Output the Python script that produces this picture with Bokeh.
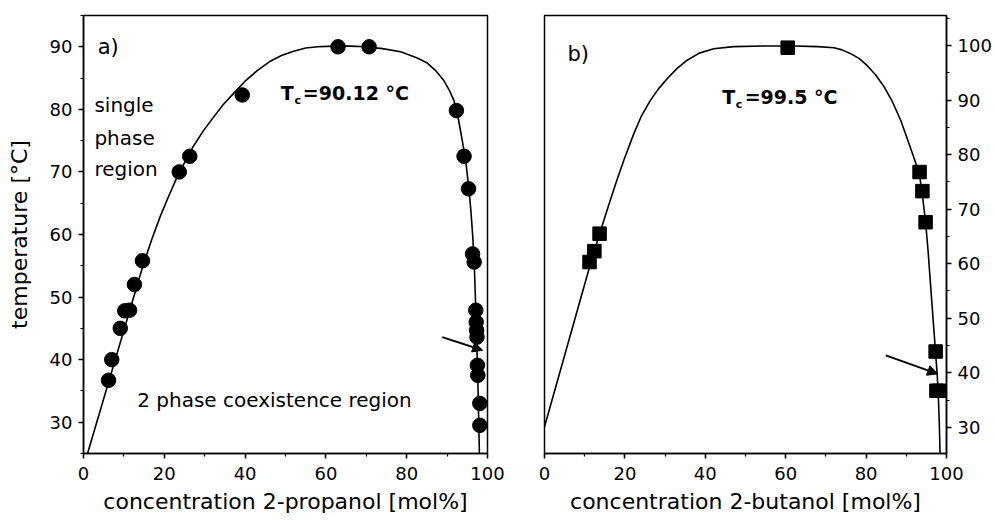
from bokeh.plotting import figure
from bokeh.layouts import row
from bokeh.models import Range1d, SingleIntervalTicker, Label, Arrow, NormalHead
from bokeh.embed import file_html
from bokeh.resources import INLINE

FONT = "DejaVu Sans"

# ---- panel a) : 2-propanol (circles) ----
conc_a = [6.2, 7.0, 9.1, 10.2, 11.4, 12.6, 14.6, 23.7, 26.3, 39.3, 63.0, 70.7,
          92.3, 94.2, 95.3, 96.3, 96.7, 97.1, 97.2, 97.3, 97.4, 97.5, 97.6, 98.1, 98.1]
temp_a = [36.7, 40.0, 45.0, 47.8, 47.9, 52.0, 55.8, 70.0, 72.5, 82.3, 90.0, 90.0,
          79.8, 72.5, 67.3, 56.9, 55.6, 47.9, 46.0, 44.7, 43.6, 39.1, 37.5, 33.0, 29.5]

curve_a_x = [1.0, 14.9, 17.0, 19.0, 21.0, 23.1, 25.0, 27.0, 29.7, 32.0, 34.5, 37.2,
             40.0, 43.0, 46.0, 49.0, 52.0, 55.0, 58.0, 62.0, 66.0, 70.0, 74.0, 78.5,
             82.6, 85.1, 87.3, 89.2, 90.6, 91.7, 92.6, 93.4, 94.0, 94.6, 95.4, 95.9,
             96.3, 96.7, 97.0, 97.3, 97.6, 97.8, 98.0]
curve_a_t = [25.0, 55.4, 59.4, 62.9, 66.0, 69.1, 71.5, 73.9, 76.6, 78.6, 80.7, 82.6,
             84.5, 86.2, 87.6, 88.6, 89.3, 89.8, 90.0, 90.1, 90.1, 90.0, 89.7, 89.2,
             88.2, 87.4, 86.1, 84.6, 83.0, 81.4, 79.1, 76.3, 74.1, 71.8, 67.3, 63.7,
             60.1, 55.9, 50.0, 44.0, 37.0, 31.0, 25.0]

# ---- panel b) : 2-butanol (squares) ----
conc_b = [11.2, 12.4, 13.7, 60.5, 93.3, 94.0, 94.8, 97.3, 97.5, 98.3]
temp_b = [60.3, 62.3, 65.5, 99.6, 76.8, 73.3, 67.6, 43.9, 36.7, 36.7]

curve_b_x = [0.0, 11.4, 13.7, 16.0, 18.0, 20.0, 22.2, 24.0, 26.3, 28.3, 30.5, 33.0,
             35.5, 38.5, 42.1, 47.0, 55.0, 62.0, 68.0, 72.0, 74.0, 76.2, 78.3, 80.3,
             82.4, 84.5, 86.6, 88.6, 90.4, 91.9, 93.3, 94.1, 94.8, 95.4, 95.9, 96.4,
             96.9, 97.3, 97.7, 98.0, 98.2, 98.4]
curve_b_t = [30.1, 59.9, 65.5, 70.8, 75.3, 79.5, 83.8, 86.9, 89.9, 92.0, 93.9, 95.8,
             97.3, 98.6, 99.4, 99.8, 99.9, 99.9, 99.8, 99.6, 99.2, 98.5, 97.6, 96.3,
             94.6, 92.4, 89.6, 86.3, 82.6, 79.4, 76.3, 72.0, 67.6, 62.5, 57.5, 52.5,
             47.5, 43.5, 39.5, 35.0, 31.0, 25.2]


def style_axis(ax, interval):
    ax.ticker = SingleIntervalTicker(interval=interval, num_minor_ticks=2)
    ax.axis_line_color = "black"
    ax.axis_line_width = 1.5
    ax.major_tick_line_color = "black"
    ax.major_tick_line_width = 1.5
    ax.minor_tick_line_color = "black"
    ax.minor_tick_line_width = 1.2
    ax.major_tick_out = 5
    ax.major_tick_in = 0
    ax.minor_tick_out = 3
    ax.minor_tick_in = 0
    ax.major_label_text_font = FONT
    ax.major_label_text_font_size = "18px"
    ax.major_label_text_color = "black"
    ax.axis_label_text_font = FONT
    ax.axis_label_text_font_size = "22px"
    ax.axis_label_text_font_style = "normal"
    ax.axis_label_text_color = "black"


def base_fig(width, yr, yloc, bl, br):
    p = figure(width=width, height=521, x_range=Range1d(0, 100), y_range=Range1d(*yr),
               output_backend="svg", toolbar_location=None, y_axis_location=yloc,
               min_border_left=bl, min_border_right=br, min_border_top=15,
               min_border_bottom=68)
    p.grid.visible = False
    p.outline_line_color = "black"
    p.outline_line_width = 1.5
    p.outline_line_alpha = 1.0
    p.background_fill_color = "white"
    p.border_fill_color = "white"
    return p


def lab(p, x, y, text, size="20px", style="normal", baseline="middle"):
    p.add_layout(Label(x=x, y=y, text=text, text_font=FONT, text_font_size=size,
                       text_font_style=style, text_baseline=baseline,
                       text_color="black"))


# ---------- figure a ----------
p1 = base_fig(516, (25, 95), "left", 83, 29)
style_axis(p1.xaxis[0], 20)
style_axis(p1.yaxis[0], 10)
p1.xaxis.axis_label = "concentration 2-propanol [mol%]"
p1.yaxis.axis_label = "temperature [°C]"
p1.xaxis.major_label_standoff = 8
p1.xaxis.axis_label_standoff = 6
p1.yaxis.major_label_standoff = 6
p1.yaxis.axis_label_standoff = 15

p1.line(curve_a_x, curve_a_t, line_color="black", line_width=1.6)
p1.scatter(conc_a, temp_a, marker="circle", size=14.5, fill_color="black",
           line_color="black")
p1.add_layout(Arrow(end=NormalHead(size=10, fill_color="black", line_color="black"),
                    x_start=88.8, y_start=43.6, x_end=98.8, y_end=41.5,
                    line_color="black", line_width=2))

lab(p1, 3.5, 90, "a)", size="21px")
lab(p1, 2.7, 80.7, "single")
lab(p1, 2.7, 75.5, "phase")
lab(p1, 2.7, 70.5, "region")
lab(p1, 13.3, 33.5, "2 phase coexistence region")
lab(p1, 48.8, 82.55, "T", size="19px", style="bold", baseline="alphabetic")
lab(p1, 52.2, 81.4, "c", size="11px", style="bold", baseline="alphabetic")
lab(p1, 54.3, 82.55, "=90.12 °C", size="19px", style="bold", baseline="alphabetic")

# ---------- figure b ----------
p2 = base_fig(479, (25.2, 105.5), "right", 28, 49)
style_axis(p2.xaxis[0], 20)
style_axis(p2.yaxis[0], 10)
p2.xaxis.axis_label = "concentration 2-butanol [mol%]"
p2.xaxis.major_label_standoff = 8
p2.xaxis.axis_label_standoff = 6
p2.yaxis.major_label_standoff = 6

p2.line(curve_b_x, curve_b_t, line_color="black", line_width=1.6)
p2.scatter(conc_b, temp_b, marker="square", size=13.5, fill_color="black",
           line_color="black")
p2.add_layout(Arrow(end=NormalHead(size=10, fill_color="black", line_color="black"),
                    x_start=84.9, y_start=43.2, x_end=97.8, y_end=39.8,
                    line_color="black", line_width=2))

lab(p2, 5.7, 98.5, "b)", size="21px")
lab(p2, 44.2, 90.5, "T", size="19px", style="bold", baseline="alphabetic")
lab(p2, 47.6, 89.2, "c", size="11px", style="bold", baseline="alphabetic")
lab(p2, 49.8, 90.5, "=99.5 °C", size="19px", style="bold", baseline="alphabetic")

layout = row(p1, p2)
open("out.html", "w").write(file_html(layout, INLINE))
